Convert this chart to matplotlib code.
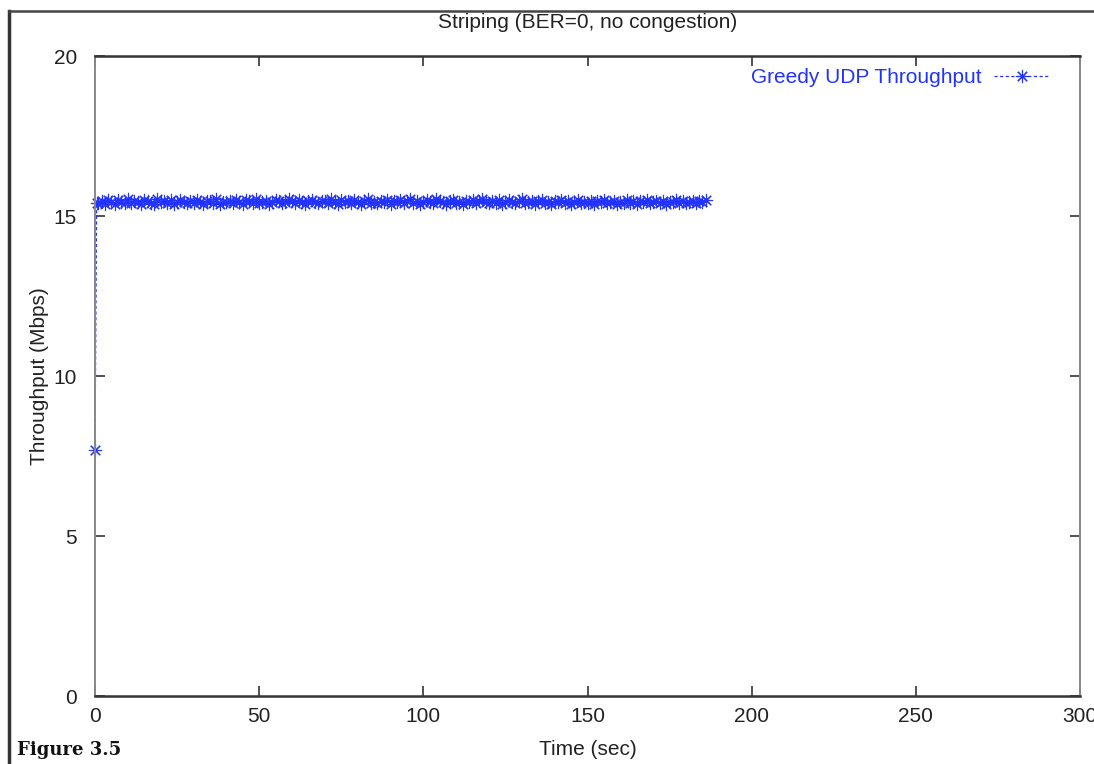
import matplotlib
matplotlib.use("Agg")
import matplotlib.pyplot as plt
from matplotlib.lines import Line2D
import numpy as np

title = "Striping (BER=0, no congestion)"
series_label = "Greedy UDP Throughput"
x_label = "Time (sec)"
y_label = "Throughput (Mbps)"
x_ticks = [0, 50, 100, 150, 200, 250, 300]
y_ticks = [0, 5, 10, 15, 20]

ramp_time = [0.0, 0.5]
ramp_vals = [7.7, 15.4]
steady_vals = [
    15.42, 15.47, 15.39, 15.51, 15.44, 15.38, 15.49, 15.45, 15.41, 15.52,
    15.40, 15.46, 15.43, 15.37, 15.50, 15.48, 15.42, 15.39, 15.53, 15.44,
    15.46, 15.41, 15.49, 15.38, 15.45, 15.51, 15.43, 15.40, 15.47, 15.42,
    15.50, 15.44, 15.37, 15.48, 15.46, 15.41, 15.52, 15.39, 15.45, 15.43,
    15.47, 15.40, 15.51, 15.44, 15.38, 15.49, 15.46, 15.42, 15.53, 15.41,
    15.45, 15.48, 15.39, 15.43, 15.50, 15.47, 15.40, 15.44, 15.52, 15.46,
    15.41, 15.49, 15.43, 15.38, 15.47, 15.51, 15.44, 15.40, 15.46, 15.48,
    15.42, 15.53, 15.45, 15.39, 15.50, 15.43, 15.47, 15.41, 15.49, 15.44,
    15.38, 15.46, 15.52, 15.42, 15.45, 15.40, 15.48, 15.43, 15.51, 15.39,
    15.47, 15.44, 15.50, 15.41, 15.46, 15.53, 15.42, 15.48, 15.37, 15.45,
    15.49, 15.43, 15.40, 15.52, 15.46, 15.44, 15.38, 15.47, 15.51, 15.42,
    15.45, 15.39, 15.48, 15.43, 15.50, 15.41, 15.46, 15.53, 15.44, 15.40,
    15.47, 15.42, 15.51, 15.38, 15.45, 15.49, 15.43, 15.40, 15.46, 15.52,
    15.41, 15.44, 15.48, 15.37, 15.46, 15.50, 15.42, 15.45, 15.39, 15.47,
    15.43, 15.51, 15.40, 15.46, 15.38, 15.44, 15.49, 15.41, 15.45, 15.42,
    15.48, 15.39, 15.46, 15.43, 15.50, 15.40, 15.44, 15.47, 15.38, 15.45,
    15.42, 15.49, 15.41, 15.46, 15.39, 15.47, 15.43, 15.50, 15.40, 15.44,
    15.46, 15.41, 15.48, 15.39, 15.45, 15.43, 15.49, 15.40, 15.47, 15.42,
    15.44, 15.48, 15.41, 15.46, 15.43, 15.50,
]
steady_time = list(np.arange(1, len(steady_vals) + 1))

time = ramp_time + steady_time
vals = ramp_vals + steady_vals

plt.rcParams['font.family'] = ['Liberation Sans', 'DejaVu Sans']
fig = plt.figure(figsize=(10.94, 7.64), dpi=100)
ax = fig.add_axes([95/1094, 1-696/764, (1080-95)/1094, (696-56)/764])

blue = '#2233ff'
fs = 15
ax.plot(time, vals, color=blue, linestyle=(0, (2.5, 2)), linewidth=0.9,
        marker=(8, 2, 0), markersize=9.5, markeredgewidth=0.8,
        label=series_label, clip_on=False)

ax.set_xlim(0, 300)
ax.set_ylim(0, 20)
ax.set_xticks(x_ticks)
ax.set_yticks(y_ticks)
ax.tick_params(direction='in', length=7, width=1.2, top=True, right=True,
               labelsize=fs, colors='#333333', labelcolor='#222222')
ax.tick_params(axis='y', pad=13)
ax.tick_params(axis='x', pad=8)
for s in ax.spines.values():
    s.set_color('#333333')
    s.set_linewidth(1.8)
ax.spines['left'].set_color('#888888')
ax.spines['left'].set_linewidth(1.4)
ax.spines['right'].set_color('#888888')
ax.spines['right'].set_linewidth(1.4)

ax.set_xlabel(x_label, fontsize=fs, color='#222222', labelpad=10)
ax.set_ylabel(y_label, fontsize=fs, color='#222222', labelpad=3)

leg = ax.legend(loc='upper right', bbox_to_anchor=(0.978, 0.994),
                frameon=False, markerfirst=False,
                fontsize=fs, labelcolor=blue, handlelength=2.7,
                borderaxespad=0.0, handletextpad=0.6)

fig.text(588/1094, 1-22/764, title, ha='center', va='center', fontsize=fs,
         color='#222222')
fig.text(17/1094, 1-750/764, "Figure 3.5", ha='left', va='center',
         fontsize=13, fontweight='bold', family='DejaVu Serif', color='#111111')

fig.add_artist(Line2D([9/1094, 9/1094], [0, 1-11/764], color='#333333',
                      linewidth=2.5, transform=fig.transFigure))
fig.add_artist(Line2D([9/1094, 1], [1-11/764, 1-11/764], color='#444444',
                      linewidth=1.8, transform=fig.transFigure))

fig.savefig("out.png", dpi=100)
